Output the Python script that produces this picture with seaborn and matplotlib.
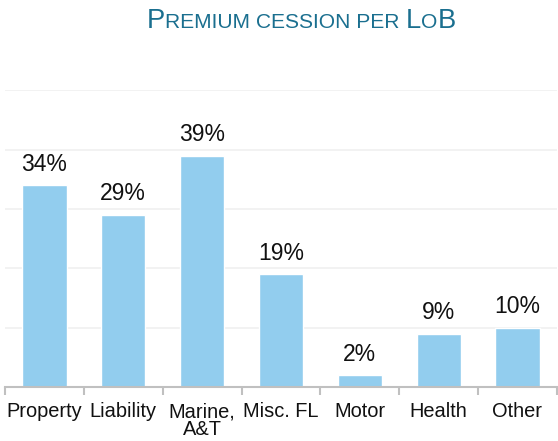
import numpy as np
import pandas as pd
import matplotlib.pyplot as plt
import seaborn as sns
from matplotlib.offsetbox import TextArea, HPacker, AnchoredOffsetbox

categories = ["Property", "Liability", "Marine,\nA&T", "Misc. FL", "Motor", "Health", "Other"]
values = [34, 29, 39, 19, 2, 9, 10]
labels = ["34%", "29%", "39%", "19%", "2%", "9%", "10%"]

sns.set_theme(style="white")
plt.rcParams['font.family'] = ['Liberation Sans', 'DejaVu Sans']

df = pd.DataFrame({"lob": categories, "share": values})

fig = plt.figure(figsize=(5.58, 4.41), dpi=100)
ax = fig.add_axes([0.009, 0.1224, 0.989, 0.673])

sns.barplot(data=df, x="lob", y="share", color="#92CDEE", saturation=1, width=0.56, ax=ax)

for i, (v, t) in enumerate(zip(values, labels)):
    ax.text(i, v + 1.6, t, ha="center", va="bottom", fontsize=16.5, color="#111111")

ax.set_ylim(0, 50)
ax.set_xlim(-0.5, 6.5)
ax.set_yticks([10, 20, 30, 40, 50])
ax.yaxis.grid(True, color="#f0f0f0", linewidth=1.2)
ax.set_axisbelow(True)
ax.tick_params(axis="y", left=False, labelleft=False)
ax.set_xlabel("")
ax.set_ylabel("")
for s in ["top", "right", "left"]:
    ax.spines[s].set_visible(False)
ax.spines["bottom"].set_color("#c0c0c0")
ax.spines["bottom"].set_linewidth(1.5)

ax.set_xticks(np.arange(-0.5, 7, 1), minor=True)
ax.tick_params(axis="x", which="minor", bottom=True, length=6, width=1.5, color="#c0c0c0", direction="out")
ax.tick_params(axis="x", which="major", bottom=True, length=0, pad=11, labelsize=14.4, labelcolor="#111111")
for lab in ax.get_xticklabels():
    lab.set_linespacing(0.9)

# small caps title
title_color = "#1a6f8f"
parts = [("P", 19.7), ("REMIUM CESSION PER ", 15.1), ("L", 19.7), ("O", 15.1), ("B", 19.7)]
areas = [TextArea(t, textprops=dict(fontsize=s, color=title_color)) for t, s in parts]
box = HPacker(children=areas, align="baseline", pad=0, sep=0)
anchored = AnchoredOffsetbox(loc="center", child=box, frameon=False,
                             bbox_to_anchor=(0.54, 0.952), bbox_transform=fig.transFigure, pad=0, borderpad=0)
fig.add_artist(anchored)

fig.savefig("out.png", dpi=100)
